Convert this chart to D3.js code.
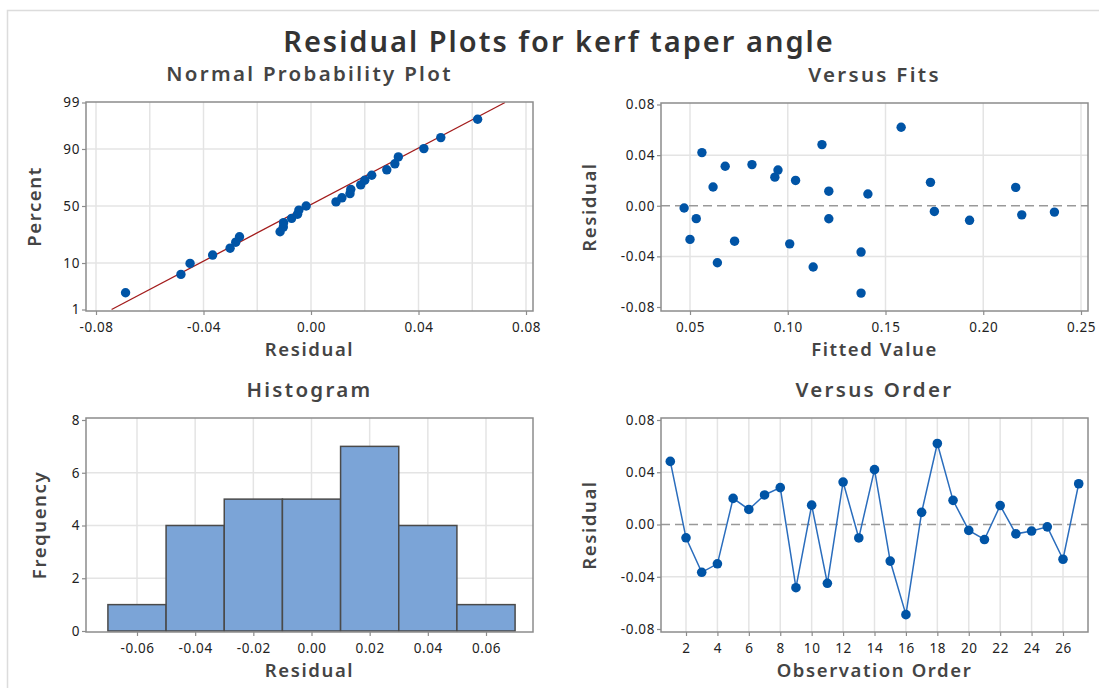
<!DOCTYPE html>
<html>
<head>
<meta charset="utf-8">
<script src="https://cdn.jsdelivr.net/npm/d3@7"></script>
<style>
  body { margin: 0; background: #fff; }
  svg { display: block; font-family: "Noto Sans", "Open Sans", sans-serif; }
</style>
</head>
<body>
<div id="chart"></div>
<script>
// residuals in observation order (1..27)
const residuals = [0.0483, -0.0102, -0.0366, -0.0301, 0.0200, 0.0115, 0.0226, 0.0282, -0.0484, 0.0148,
                   -0.0450, 0.0325, -0.0103, 0.0420, -0.0280, -0.0690, 0.0093, 0.0620, 0.0185, -0.0045,
                   -0.0115, 0.0145, -0.0072, -0.0050, -0.0018, -0.0266, 0.0312];
// fitted values in the same order
const fitted = [0.1175, 0.0532, 0.1375, 0.1010, 0.1040, 0.1210, 0.0934, 0.0950, 0.1130, 0.0618,
                0.0640, 0.0817, 0.1210, 0.0561, 0.0728, 0.1375, 0.1410, 0.1580, 0.1730, 0.1750,
                0.1930, 0.2166, 0.2197, 0.2364, 0.0470, 0.0500, 0.0680];
const fitLine = [{ r: -0.0742, p: 1 }, { r: 0.0722, p: 99 }];   // red reference line
const binEdges = [-0.07, -0.05, -0.03, -0.01, 0.01, 0.03, 0.05, 0.07];

const pctTicks = [1, 10, 50, 90, 99];
const pctGrid = [10, 50, 90];
const nppXTicks = [-0.08, -0.04, 0, 0.04, 0.08];
const nppXGrid = [-0.08, -0.06, -0.04, -0.02, 0, 0.02, 0.04, 0.06, 0.08];
const residTicks = [-0.08, -0.04, 0, 0.04, 0.08];
const fitTicks = [0.05, 0.10, 0.15, 0.20, 0.25];
const histXTicks = [-0.06, -0.04, -0.02, 0, 0.02, 0.04, 0.06];
const freqTicks = [0, 2, 4, 6, 8];
const orderTicks = d3.range(2, 27, 2);

const W = 1099, H = 688;
const dotCol = "#0054a6";
const gridCol = "#e4e4e4";
const frameCol = "#8c8c8c";

// inverse normal cdf (Acklam)
function probit(p) {
  const a = [-39.69683028665376, 220.9460984245205, -275.9285104469687, 138.357751867269, -30.66479806614716, 2.506628277459239];
  const b = [-54.47609879822406, 161.5858368580409, -155.6989798598866, 66.80131188771972, -13.28068155288572];
  const c = [-0.007784894002430293, -0.3223964580411365, -2.400758277161838, -2.549732539343734, 4.374664141464968, 2.938163982698783];
  const d = [0.007784695709041462, 0.3224671290700398, 2.445134137142996, 3.754408661907416];
  const pl = 0.02425;
  let q, r;
  if (p < pl) {
    q = Math.sqrt(-2 * Math.log(p));
    return (((((c[0]*q+c[1])*q+c[2])*q+c[3])*q+c[4])*q+c[5]) / ((((d[0]*q+d[1])*q+d[2])*q+d[3])*q+1);
  }
  if (p > 1 - pl) {
    q = Math.sqrt(-2 * Math.log(1 - p));
    return -(((((c[0]*q+c[1])*q+c[2])*q+c[3])*q+c[4])*q+c[5]) / ((((d[0]*q+d[1])*q+d[2])*q+d[3])*q+1);
  }
  q = p - 0.5; r = q * q;
  return (((((a[0]*r+a[1])*r+a[2])*r+a[3])*r+a[4])*r+a[5])*q / (((((b[0]*r+b[1])*r+b[2])*r+b[3])*r+b[4])*r+1);
}
const fmt2 = d => (Math.abs(d) < 1e-9 ? 0 : d).toFixed(2);

const svg = d3.select("#chart").append("svg")
  .attr("width", W).attr("height", H);

svg.append("rect").attr("width", W).attr("height", H).attr("fill", "#fff");
// outer light frame
svg.append("rect").attr("x", 7.5).attr("y", 10.5).attr("width", 1200).attr("height", 1000)
  .attr("fill", "none").attr("stroke", "#dcdcdc").attr("stroke-width", 1.5);

svg.append("text").attr("x", 559).attr("y", 52).attr("text-anchor", "middle")
  .attr("font-size", 29).attr("font-weight", 600).attr("letter-spacing", 2)
  .attr("fill", "#333").text("Residual Plots for kerf taper angle");

//----------------- panel helper -----------------------//
function panel(box, cfg) {
  const g = svg.append("g");
  // subtitle
  g.append("text").attr("x", (box.x0 + box.x1) / 2).attr("y", box.y0 - 21)
    .attr("text-anchor", "middle").attr("font-size", 20.5).attr("font-weight", 600)
    .attr("letter-spacing", 2.3).attr("fill", "#444").text(cfg.title);

  // grids
  g.selectAll(".gx").data(cfg.xGrid).join("line")
    .attr("class", "gx")
    .attr("x1", d => cfg.x(d)).attr("x2", d => cfg.x(d))
    .attr("y1", box.y0).attr("y2", box.y1)
    .attr("stroke", gridCol).attr("stroke-width", 1.5);
  g.selectAll(".gy").data(cfg.yGrid).join("line")
    .attr("class", "gy")
    .attr("y1", d => cfg.y(d)).attr("y2", d => cfg.y(d))
    .attr("x1", box.x0).attr("x2", box.x1)
    .attr("stroke", gridCol).attr("stroke-width", 1.5);

  // axes
  const ax = g.append("g").attr("transform", `translate(0,${box.y1})`)
    .call(d3.axisBottom(cfg.x).tickValues(cfg.xTicks).tickFormat(cfg.xFmt).tickSize(4).tickSizeOuter(0));
  const ay = g.append("g").attr("transform", `translate(${box.x0},0)`)
    .call(d3.axisLeft(cfg.y).tickValues(cfg.yTicks).tickFormat(cfg.yFmt).tickSize(4).tickSizeOuter(0));
  [ax, ay].forEach(a => {
    a.select(".domain").remove();
    a.selectAll(".tick line").attr("stroke", frameCol).attr("stroke-width", 1.2);
    a.selectAll(".tick text").attr("font-size", 13.5).attr("fill", "#222")
      .attr("font-family", "'Noto Sans', sans-serif").attr("letter-spacing", 0.6);
  });
  ax.selectAll(".tick text").attr("dy", "1.0em");
  ay.selectAll(".tick text").attr("x", -6);

  g.append("text").attr("x", (box.x0 + box.x1) / 2).attr("y", box.y1 + 45)
    .attr("text-anchor", "middle").attr("font-size", 18.5).attr("font-weight", 600)
    .attr("letter-spacing", 1.6).attr("fill", "#444").text(cfg.xLabel);
  g.append("text")
    .attr("transform", `translate(${cfg.yLabelX},${(box.y0 + box.y1) / 2}) rotate(-90)`)
    .attr("text-anchor", "middle").attr("font-size", 18.5).attr("font-weight", 600)
    .attr("letter-spacing", 1.6).attr("fill", "#444").text(cfg.yLabel);

  const plot = g.append("g");
  g.append("rect").attr("x", box.x0).attr("y", box.y0)
    .attr("width", box.x1 - box.x0).attr("height", box.y1 - box.y0)
    .attr("fill", "none").attr("stroke", frameCol).attr("stroke-width", 1.5);
  return plot;
}

//----------------- Normal probability plot -----------------------//
{
  const box = { x0: 86, x1: 533, y0: 102, y1: 311 };
  const x = d3.scaleLinear().domain([-0.08, 0.08]).range([96, 526]);
  // y scale works on normal scores of the percentages
  const y = d3.scaleLinear().domain([probit(0.01), probit(0.99)]).range([309.5, 102.5]);
  const z = p => probit(p / 100);
  const plot = panel(box, {
    title: "Normal Probability Plot", x, y,
    xTicks: nppXTicks, xGrid: nppXGrid, yTicks: pctTicks.map(z), yGrid: pctGrid.map(z),
    xFmt: fmt2, yFmt: (d, i) => pctTicks[i], xLabel: "Residual", yLabel: "Percent", yLabelX: 41
  });
  const n = residuals.length;
  const sorted = residuals.slice().sort(d3.ascending)
    .map((r, i) => ({ r, p: (i + 1 - 0.3) / (n + 0.4) * 100 }));
  plot.append("path").datum(fitLine)
    .attr("d", d3.line().x(d => x(d.r)).y(d => y(z(d.p))))
    .attr("stroke", "#a31c1c").attr("stroke-width", 1.3).attr("fill", "none");
  plot.selectAll("circle").data(sorted).join("circle")
    .attr("cx", d => x(d.r)).attr("cy", d => y(z(d.p)))
    .attr("r", 4.7).attr("fill", dotCol);
}

//----------------- Versus fits -----------------------//
{
  const box = { x0: 661, x1: 1088, y0: 103, y1: 311 };
  const x = d3.scaleLinear().domain([0.05, 0.25]).range([690, 1081]);
  const y = d3.scaleLinear().domain([-0.08, 0.08]).range([307, 104.5]);
  const plot = panel(box, {
    title: "Versus Fits", x, y,
    xTicks: fitTicks, xGrid: fitTicks, yTicks: residTicks, yGrid: [-0.04, 0.04],
    xFmt: fmt2, yFmt: fmt2, xLabel: "Fitted Value", yLabel: "Residual", yLabelX: 596
  });
  plot.append("line").attr("x1", box.x0).attr("x2", box.x1).attr("y1", y(0)).attr("y2", y(0))
    .attr("stroke", "#999").attr("stroke-width", 1.5).attr("stroke-dasharray", "9,5");
  plot.selectAll("circle").data(d3.zip(fitted, residuals)).join("circle")
    .attr("cx", d => x(d[0])).attr("cy", d => y(d[1]))
    .attr("r", 4.7).attr("fill", dotCol);
}

//----------------- Histogram -----------------------//
{
  const box = { x0: 86, x1: 533, y0: 418, y1: 632 };
  const x = d3.scaleLinear().domain([-0.06, 0.06]).range([137, 486]);
  const y = d3.scaleLinear().domain([0, 8]).range([631, 420]);
  const bins = d3.bin().domain([binEdges[0], binEdges[binEdges.length - 1]])
    .thresholds(binEdges.slice(1, -1))(residuals);
  const plot = panel(box, {
    title: "Histogram", x, y,
    xTicks: histXTicks, xGrid: histXTicks, yTicks: freqTicks, yGrid: [2, 4, 6],
    xFmt: fmt2, yFmt: d => d, xLabel: "Residual", yLabel: "Frequency", yLabelX: 46
  });
  plot.selectAll("rect").data(bins).join("rect")
    .attr("x", d => x(d.x0)).attr("width", d => x(d.x1) - x(d.x0))
    .attr("y", d => y(d.length)).attr("height", d => y(0) - y(d.length))
    .attr("fill", "#7ba4d7").attr("stroke", "#4a4a4a").attr("stroke-width", 1.5);
}

//----------------- Versus order -----------------------//
{
  const box = { x0: 661, x1: 1088, y0: 418, y1: 632 };
  const x = d3.scaleLinear().domain([2, 26]).range([686, 1063]);
  const y = d3.scaleLinear().domain([-0.08, 0.08]).range([629, 420]);
  const plot = panel(box, {
    title: "Versus Order", x, y,
    xTicks: orderTicks, xGrid: orderTicks, yTicks: residTicks, yGrid: [-0.04, 0.04],
    xFmt: d => d, yFmt: fmt2, xLabel: "Observation Order", yLabel: "Residual", yLabelX: 596
  });
  plot.append("line").attr("x1", box.x0).attr("x2", box.x1).attr("y1", y(0)).attr("y2", y(0))
    .attr("stroke", "#999").attr("stroke-width", 1.5).attr("stroke-dasharray", "9,5");
  plot.append("path").datum(residuals)
    .attr("d", d3.line().x((d, i) => x(i + 1)).y(d => y(d)))
    .attr("fill", "none").attr("stroke", "#2a6dbd").attr("stroke-width", 1.5);
  plot.selectAll("circle").data(residuals).join("circle")
    .attr("cx", (d, i) => x(i + 1)).attr("cy", d => y(d))
    .attr("r", 4.8).attr("fill", dotCol);
}
</script>
</body>
</html>
